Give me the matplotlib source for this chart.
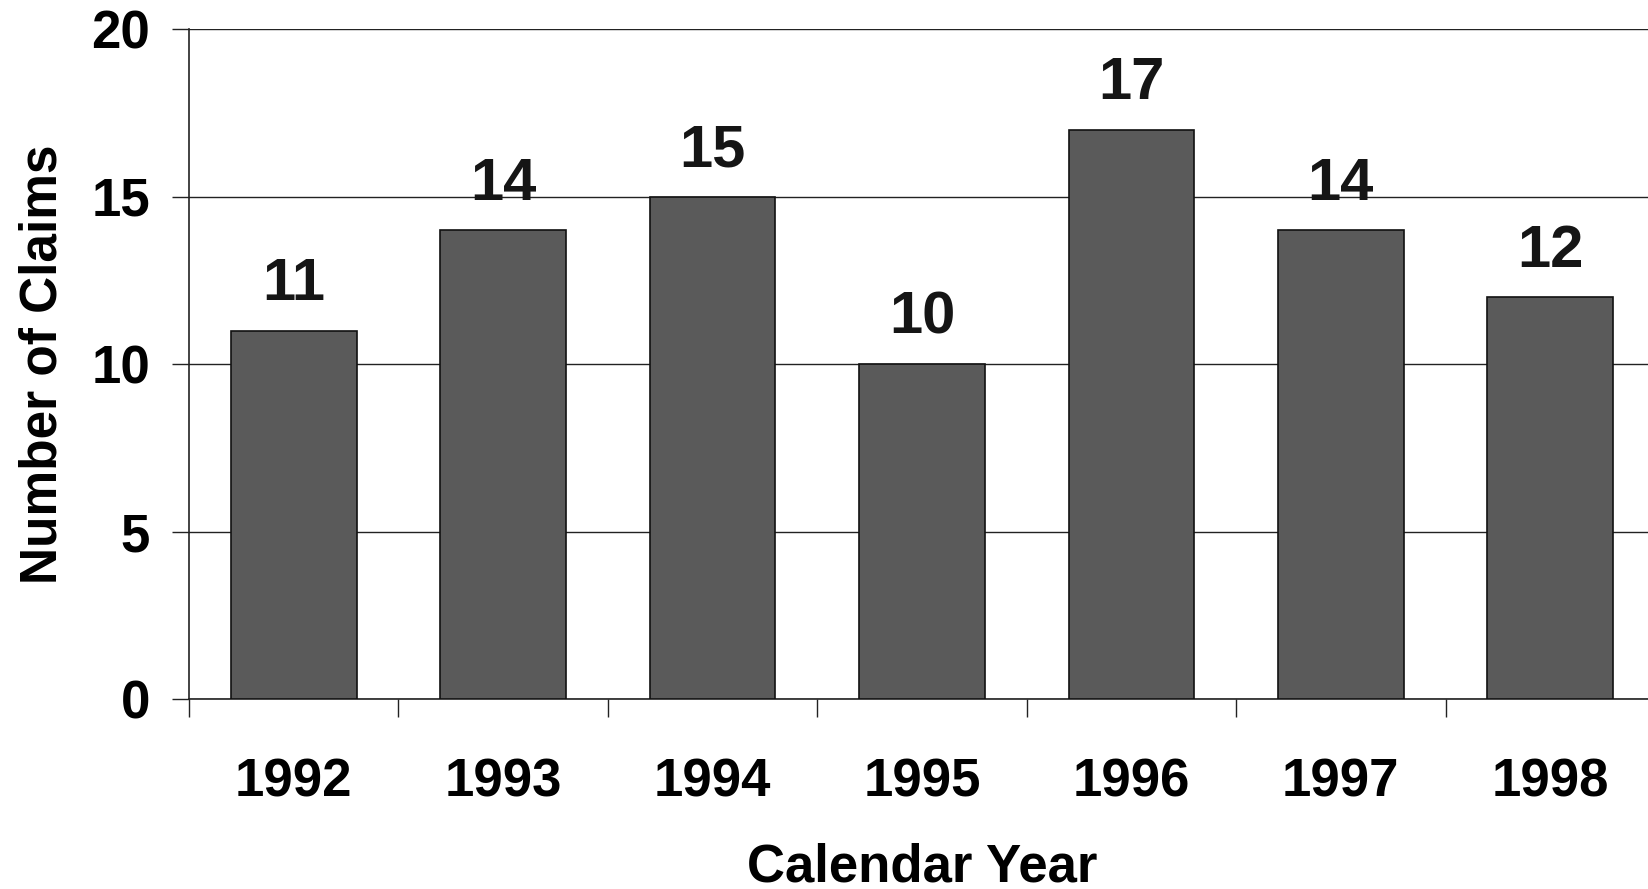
import matplotlib.pyplot as plt
import numpy as np

# data
years = ["1992", "1993", "1994", "1995", "1996", "1997", "1998"]
claims = [11, 14, 15, 10, 17, 14, 12]
yticks = [0, 5, 10, 15, 20]

plt.rcParams["font.family"] = ["Liberation Sans", "DejaVu Sans"]
plt.rcParams["font.weight"] = "bold"

fig = plt.figure(figsize=(16.48, 8.89), dpi=100)
ax = fig.add_axes([189 / 1648, 1 - 699 / 889, 1466 / 1648, 670 / 889])

x = np.arange(len(years))
ax.bar(x, claims, width=0.6, color="#5a5a5a", edgecolor="#111111",
       linewidth=1.2, zorder=3)

for xi, v in zip(x, claims):
    ax.annotate(str(v), (xi, v), xytext=(0, 13), textcoords="offset points",
                ha="center", va="bottom", fontsize=43, fontweight="bold",
                color="#151515")

ax.set_xlim(-0.5, len(years) - 0.5)
ax.set_ylim(0, 20)
ax.set_yticks(yticks)
ax.set_yticklabels([str(t) for t in yticks])
ax.yaxis.grid(True, color="#222222", linewidth=1.0, zorder=0)

ax.set_xticks(np.arange(len(years) + 1) - 0.5, minor=False)
ax.set_xticklabels([])
ax.set_xticks(x, minor=True)
ax.set_xticklabels(years, minor=True)
ax.tick_params(axis="x", which="major", length=13, width=1.0, color="#222222")
ax.tick_params(axis="x", which="minor", length=0, pad=42, labelsize=38)
ax.tick_params(axis="y", length=12, width=1.0, color="#222222",
               labelsize=38, pad=16)

for s in ["top", "right"]:
    ax.spines[s].set_visible(False)
ax.spines["left"].set_color("#222222")
ax.spines["bottom"].set_color("#222222")
ax.spines["left"].set_linewidth(1.2)
ax.spines["bottom"].set_linewidth(1.2)

ax.set_ylabel("Number of Claims", fontsize=37, fontweight="bold", labelpad=17)
ax.set_xlabel("Calendar Year", fontsize=38, fontweight="bold", labelpad=25)

fig.savefig("out.png", dpi=100, facecolor="white")
